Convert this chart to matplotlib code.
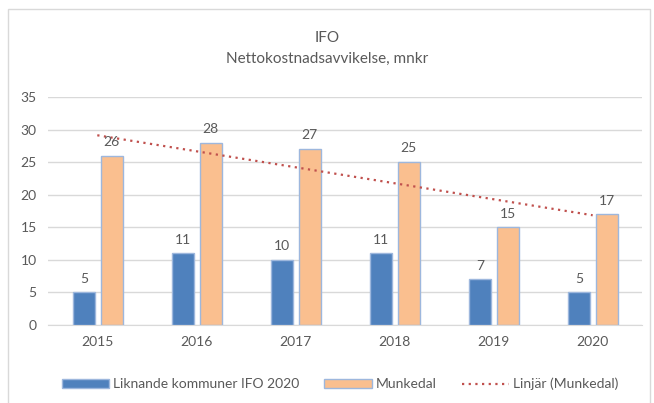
import numpy as np
import matplotlib
matplotlib.use('Agg')
import matplotlib.pyplot as plt
from matplotlib.patches import Rectangle

# ── Data ──────────────────────────────────────────────────────────────────────
years = ['2015', '2016', '2017', '2018', '2019', '2020']
liknande = [5, 11, 10, 11, 7, 5]
munkedal = [26, 28, 27, 25, 15, 17]

plt.rcParams['font.family'] = ['Lato', 'DejaVu Sans']
grey = '#595959'

fig = plt.figure(figsize=(6.54, 4.03), dpi=100)
ax = fig.add_axes([0.073, 0.1935, 0.909, 0.5655])

x = np.arange(len(years))
w = 0.22
edge = '#9DB7DD'
b1 = ax.bar(x - 0.135, liknande, w, color='#4F81BD', edgecolor=edge, linewidth=1,
            label='Liknande kommuner IFO 2020', zorder=3)
b2 = ax.bar(x + 0.145, munkedal, w, color='#FABF8F', edgecolor=edge, linewidth=1,
            label='Munkedal', zorder=3)

# linear trend of Munkedal
k, m = np.polyfit(x, munkedal, 1)
trend, = ax.plot(x, k * x + m, linestyle=(0, (1, 2)), color='#C0504D', linewidth=1.6,
                 label='Linjär (Munkedal)', zorder=4)

for bars, vals in ((b1, liknande), (b2, munkedal)):
    for r, v in zip(bars, vals):
        ax.text(r.get_x() + r.get_width() / 2, v + 1.2, str(v), ha='center',
                va='bottom', fontsize=10, color=grey, zorder=5)

ax.set_xlim(-0.5, 5.5)
ax.set_ylim(0, 35)
ax.set_yticks(range(0, 36, 5))
ax.set_xticks(x)
ax.set_xticklabels(years)
ax.tick_params(length=0, labelsize=10, colors=grey, pad=8)
ax.yaxis.grid(True, color='#D9D9D9', linewidth=1, zorder=0)
ax.set_axisbelow(True)
for s in ('top', 'right', 'left'):
    ax.spines[s].set_visible(False)
ax.spines['bottom'].set_color('#D9D9D9')

fig.text(0.5, 0.895, 'IFO', ha='center', fontsize=11, color=grey)
fig.text(0.5, 0.845, 'Nettokostnadsavvikelse, mnkr', ha='center', fontsize=11, color=grey)

fig.legend(handles=[b1, b2, trend], loc='center', bbox_to_anchor=(0.52, 0.047), ncol=3,
           frameon=False, fontsize=10, labelcolor=grey, handlelength=3.4,
           handleheight=0.6, columnspacing=1.8, handletextpad=0.3)

# light chart-area border
fig.patches.append(Rectangle((0.012, -0.01), 0.982, 0.988, transform=fig.transFigure,
                             fill=False, edgecolor='#D9D9D9', linewidth=1))

fig.savefig('out.png', dpi=100)
